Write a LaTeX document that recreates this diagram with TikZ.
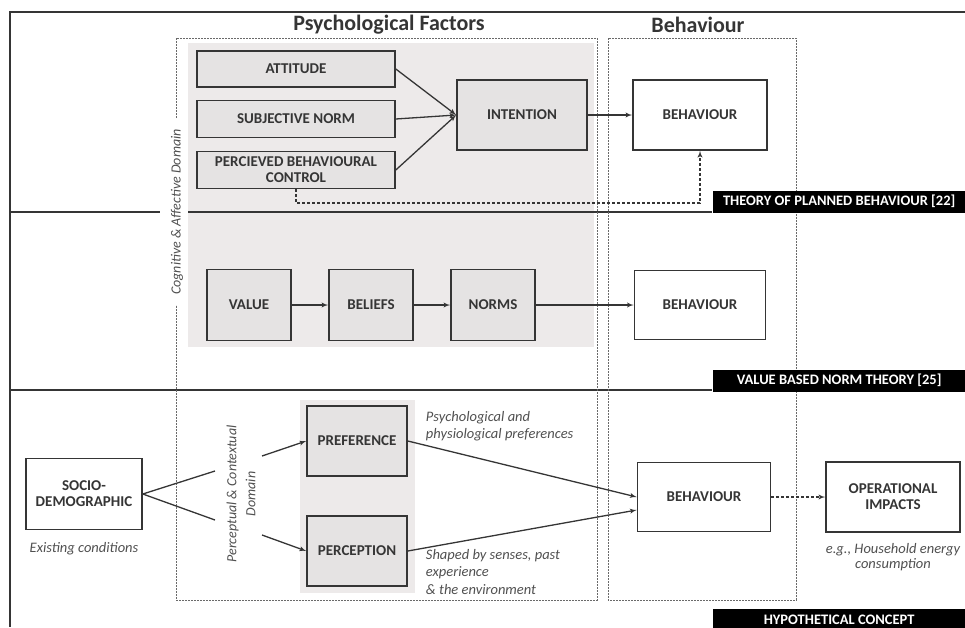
\documentclass[tikz,border=0pt]{standalone}
\usepackage{fontspec}
\setmainfont{Carlito}
\usetikzlibrary{arrows,positioning}
\definecolor{linegray}{HTML}{353535}
\definecolor{boxgray}{HTML}{E5E3E3}
\definecolor{areagray}{HTML}{EDEAEA}
\definecolor{notegray}{HTML}{505050}
\definecolor{framegray}{HTML}{6A6A6A}
\tikzset{
block/.style = {draw=linegray, line width=1.6pt, fill=boxgray, rectangle, align=center, text=linegray, inner sep=3pt, font=\bfseries\fontsize{15}{16}\selectfont},
wblock/.style = {block, fill=white},
tag/.style = {fill=black, text=white, minimum width=253pt, minimum height=22pt, inner sep=0pt, font=\bfseries\fontsize{14.5}{15}\selectfont},
title/.style = {text=linegray, font=\bfseries\fontsize{22}{24}\selectfont},
note/.style = {text=notegray, font=\itshape\fontsize{14.5}{17.5}\selectfont, align=left},
domainlabel/.style = {text=notegray, font=\itshape\fontsize{14}{19}\selectfont, rotate=90, align=center},
dashframe/.style = {draw=framegray, line width=0.8pt, dash pattern=on 2pt off 1pt},
rule/.style = {draw=linegray, line width=1.8pt},
tmp/.style = {coordinate}
}

\begin{document}
\begin{tikzpicture}[x=1pt, y=-1pt, node distance=122pt, >=latex', line width=1.3pt, draw=linegray]
  \useasboundingbox (0,0) rectangle (965,627);
  % shaded areas
  \fill [areagray] (188,43) rectangle (594,347);
  \fill [areagray] (300,400) rectangle (415,593);
  % frame and theory rules
  \draw [rule] (965,12) -- (10,12) -- (10,627);
  \draw [rule] (10,212) -- (160,212);
  \draw [rule] (188,212) -- (712,212);
  \draw [rule] (10,390) -- (712,390);
  \draw [dashframe] (176,118) -- (176,38) -- (597,38) -- (597,600) -- (176,600) -- (176,305);
  \draw [dashframe] (608,38) rectangle (796,600);

  \node [title]                                                   (psych)      at (389,25)  {Psychological Factors};
  \node [title]                                                   (behav)      at (698,25)  {Behaviour};
  \node [domainlabel]                                             (cogdom)     at (177,212) {Cognitive \& Affective Domain};
  \node [domainlabel]                                             (percdom)    at (241,494) {Perceptual \& Contextual\\Domain};

  % theory of planned behaviour
  \node [block, minimum width=198pt, minimum height=36pt]         (attitude)   at (296,69)  {ATTITUDE};
  \node [block, below of=attitude, node distance=50pt, minimum width=198pt, minimum height=37pt] (subjnorm) {SUBJECTIVE NORM};
  \node [block, below of=subjnorm, node distance=51pt, minimum width=198pt, minimum height=37pt, inner sep=2pt] (control) {PERCIEVED BEHAVIOURAL\\CONTROL};
  \node [tmp, below of=control, node distance=33pt]               (tmp1)       {};
  \node [block, minimum width=130pt, minimum height=70pt]         (intention)  at (522,115) {INTENTION};
  \node [wblock, right of=intention, node distance=178pt, minimum width=134pt, minimum height=70pt] (behav1) {BEHAVIOUR};
  \node [tag, anchor=north west]                                  (tpb)        at (712,190) {THEORY OF PLANNED BEHAVIOUR [22]};

  % value based norm theory
  \node [block, minimum width=84pt, minimum height=71pt]          (value)      at (249,305) {VALUE};
  \node [block, right of=value, minimum width=84pt, minimum height=71pt]    (beliefs)   {BELIEFS};
  \node [block, right of=beliefs, minimum width=84pt, minimum height=71pt]  (norms)     {NORMS};
  \node [wblock, right of=norms, node distance=207pt, minimum width=131pt, minimum height=69pt] (behav2) {BEHAVIOUR};
  \node [tag, anchor=north west]                                  (vbn)        at (712,369) {VALUE BASED NORM THEORY [25]};

  % hypothetical concept
  \node [wblock, minimum width=116pt, minimum height=71pt]        (socio)      at (84,494)  {SOCIO-\\DEMOGRAPHIC};
  \node [note, below of=socio, node distance=55pt]                (socionote)  {Existing conditions};
  \node [tmp]                                                     (sociotop)   at (215,471) {};
  \node [tmp]                                                     (sociobot)   at (215,520) {};
  \node [tmp]                                                     (preftail)   at (262,456) {};
  \node [tmp]                                                     (perctail)   at (262,535) {};
  \node [block, minimum width=100pt, minimum height=70pt]         (preference) at (357,441) {PREFERENCE};
  \node [block, below of=preference, node distance=110pt, minimum width=100pt, minimum height=70pt] (perception) {PERCEPTION};
  \node [note, anchor=west]                                       (prefnote)   at (422,426) {Psychological and\\physiological preferences};
  \node [note, anchor=west]                                       (percnote)   at (422,572) {Shaped by senses, past\\experience\\\& the environment};
  \node [wblock, minimum width=133pt, minimum height=69pt]        (behav3)     at (704,497) {BEHAVIOUR};
  \node [wblock, right of=behav3, node distance=189pt, minimum width=134pt, minimum height=70pt] (impacts) {OPERATIONAL\\IMPACTS};
  \node [note, below of=impacts, node distance=60pt, align=center, font=\itshape\fontsize{14.5}{15.5}\selectfont] (impnote) {e.g., Household energy\\consumption};
  \node [tag, anchor=north west]                                  (hypo)       at (712,608) {HYPOTHETICAL CONCEPT};

  \draw [->] (attitude.east) -- (intention.west);
  \draw [->] (subjnorm.east) -- (intention.west);
  \draw [->] (control.east) -- (intention.west);
  \draw [->] (intention) -- (behav1);
  \draw [->, dash pattern=on 3pt off 2pt] (control) -- (tmp1) -| (behav1);
  \draw [->] (value) -- (beliefs);
  \draw [->] (beliefs) -- (norms);
  \draw [->] (norms) -- (behav2);
  \draw (socio.east) -- (sociotop);
  \draw (socio.east) -- (sociobot);
  \draw [->] (preftail) -- (preference.west);
  \draw [->] (perctail) -- (perception.west);
  \draw [->] (preference.east) -- (behav3.west);
  \draw [->] (perception.east) -- ([yshift=-13pt]behav3.west);
  \draw [->, dash pattern=on 3pt off 2pt] (behav3) -- (impacts);
\end{tikzpicture}
\end{document}
